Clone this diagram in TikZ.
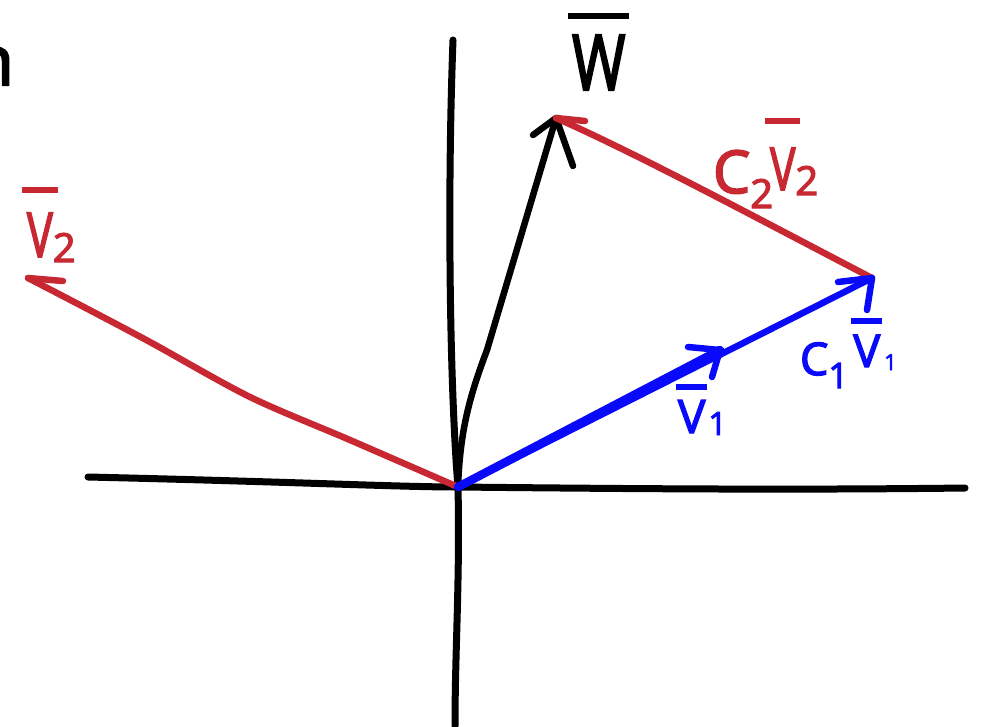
\documentclass[tikz,border=0pt]{standalone}
\usepackage{fontspec}
\setmainfont{Open Sans}[FakeBold=3]
\definecolor{hred}{RGB}{200,40,50}
\definecolor{hblue}{RGB}{10,10,250}
\newsavebox\lblbox
\newcommand\barred[3]{%
  \sbox\lblbox{#3}%
  \vbox{\offinterlineskip\hbox{\kern-#2\rule{\dimexpr\wd\lblbox+#2+#2\relax}{6pt}\kern-#2}\kern#1\hbox{\usebox\lblbox}}}
\newcommand\lsub[3]{\raisebox{-#1}{\fontsize{#2}{#2}\selectfont #3}}
\newcommand\fs[1]{\fontsize{#1}{#1}\selectfont}
\begin{document}
\begin{tikzpicture}[x=1pt,y=-1pt,
  pen/.style={line width=6.5pt,line cap=round,line join=round},
  axis/.style={line width=7pt,line cap=round,line join=round},
  lbl/.style={inner sep=0pt,outer sep=0pt,anchor=base west}]
\useasboundingbox (0,0) rectangle (984,726);
% points
\coordinate (O) at (458,487);
\coordinate (hl) at (88,477);
\coordinate (hr) at (965,488);
\coordinate (vt) at (453,40);
\coordinate (vb) at (455,726);
\coordinate (Wt) at (556,118);
\coordinate (B) at (872,278);
\coordinate (V1t) at (720,350);
\coordinate (V2t) at (28,278);
% axes
\draw[axis] (hl) .. controls (300,482) and (400,487) .. (O) .. controls (650,489) and (800,490) .. (hr);
\draw[axis] (vt) .. controls (447,200) and (450,390) .. (O) .. controls (460,580) and (455,650) .. (vb);
% w
\draw[pen] (O) .. controls (460,430) and (470,395) .. (487,350) -- (Wt);
\draw[pen] (533,135) -- (Wt) -- (573,166);
% c2 v2
\draw[pen,hred] (B) .. controls (770,225) and (640,155) .. (Wt);
\draw[pen,hred] (Wt) -- (585,121);
% v2
\draw[pen,hred] plot[smooth] coordinates {(O) (350,440) (250,397) (150,342) (80,305) (V2t)};
\draw[pen,hred] (V2t) -- (63,281);
% c1 v1 and v1
\draw[pen,hblue] (O) -- (B);
\draw[pen,hblue,line width=8.5pt] (O) -- (V1t);
\draw[pen,hblue] (838,282) -- (B) -- (867,310);
\draw[pen,hblue] (688,347) -- (V1t) -- (712,377);
% labels
\node[lbl,anchor=base east,font=\fs{69}] (n) at (14,85) {n};
\node[lbl,font=\fs{77}] (wl) at (572,90) {\barred{16.5pt}{4pt}{\scalebox{0.75}[1]{W}}};
\node[lbl,text=hred,font=\fs{62}] (v2l) at (27,257) {\barred{19.5pt}{5pt}{\scalebox{0.7}[1]{V}}\lsub{5pt}{40}{2}};
\node[lbl,text=hred,font=\fs{59}] (c2v2l) at (713,193) {C\lsub{15pt}{40}{2}\kern-3pt\raisebox{3pt}{\barred{23.5pt}{5pt}{\scalebox{0.72}[1]{V}}}\lsub{2pt}{40}{2}};
\node[lbl,text=hblue,font=\fs{46}] (v1l) at (678,433) {\barred{10.5pt}{2pt}{V}\kern3pt\lsub{2pt}{32}{1}};
\node[lbl,text=hblue,font=\fs{45}] (c1v1l) at (800,375) {C\lsub{13pt}{35}{1}\kern5pt\raisebox{8pt}{\barred{10.5pt}{2pt}{V}}\kern4pt\lsub{-5pt}{22}{1}};
\end{tikzpicture}
\end{document}
